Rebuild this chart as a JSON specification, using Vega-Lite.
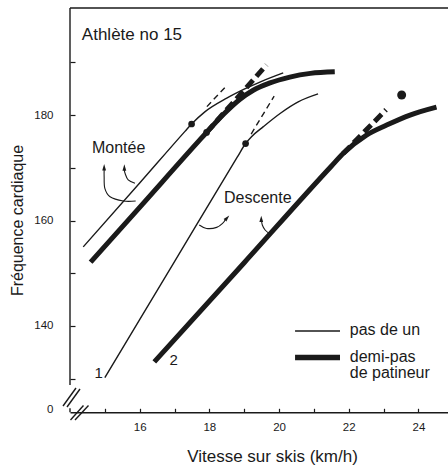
{
  "$schema": "https://vega.github.io/schema/vega-lite/v6.json",
  "width": 378,
  "height": 404.3,
  "autosize": {"type": "none"},
  "padding": {"left": 70, "top": 8, "right": 0, "bottom": 52.7},
  "background": "white",
  "config": {"view": {"stroke": null}, "font": "Liberation Sans"},
  "datasets": {
    "curves": [
      {"terrain": "Montée", "technique": "pas de un", "part": "mesure", "o": 1, "x": 14.38, "y": 155.0},
      {"terrain": "Montée", "technique": "pas de un", "part": "mesure", "o": 2, "x": 16.0, "y": 167.1},
      {"terrain": "Montée", "technique": "pas de un", "part": "mesure", "o": 3, "x": 17.3, "y": 176.9},
      {"terrain": "Montée", "technique": "pas de un", "part": "mesure", "o": 4, "x": 17.49, "y": 178.3},
      {"terrain": "Montée", "technique": "pas de un", "part": "mesure", "o": 5, "x": 17.87, "y": 180.6},
      {"terrain": "Montée", "technique": "pas de un", "part": "mesure", "o": 6, "x": 18.5, "y": 183.2},
      {"terrain": "Montée", "technique": "pas de un", "part": "mesure", "o": 7, "x": 19.0, "y": 184.9},
      {"terrain": "Montée", "technique": "pas de un", "part": "mesure", "o": 8, "x": 19.5, "y": 186.4},
      {"terrain": "Montée", "technique": "pas de un", "part": "mesure", "o": 9, "x": 20.12, "y": 188.0},
      {"terrain": "Montée", "technique": "pas de un", "part": "extrapolation", "o": 1, "x": 17.93, "y": 181.6},
      {"terrain": "Montée", "technique": "pas de un", "part": "extrapolation", "o": 2, "x": 18.5, "y": 185.6},
      {"terrain": "Montée", "technique": "demi-pas de patineur", "part": "mesure", "o": 1, "x": 14.59, "y": 152.1},
      {"terrain": "Montée", "technique": "demi-pas de patineur", "part": "mesure", "o": 2, "x": 16.0, "y": 162.5},
      {"terrain": "Montée", "technique": "demi-pas de patineur", "part": "mesure", "o": 3, "x": 17.7, "y": 175.1},
      {"terrain": "Montée", "technique": "demi-pas de patineur", "part": "mesure", "o": 4, "x": 17.92, "y": 176.7},
      {"terrain": "Montée", "technique": "demi-pas de patineur", "part": "mesure", "o": 5, "x": 18.4, "y": 180.1},
      {"terrain": "Montée", "technique": "demi-pas de patineur", "part": "mesure", "o": 6, "x": 18.88, "y": 183.0},
      {"terrain": "Montée", "technique": "demi-pas de patineur", "part": "mesure", "o": 7, "x": 19.26, "y": 184.7},
      {"terrain": "Montée", "technique": "demi-pas de patineur", "part": "mesure", "o": 8, "x": 19.74, "y": 186.1},
      {"terrain": "Montée", "technique": "demi-pas de patineur", "part": "mesure", "o": 9, "x": 20.31, "y": 187.2},
      {"terrain": "Montée", "technique": "demi-pas de patineur", "part": "mesure", "o": 10, "x": 20.9, "y": 187.9},
      {"terrain": "Montée", "technique": "demi-pas de patineur", "part": "mesure", "o": 11, "x": 21.6, "y": 188.2},
      {"terrain": "Montée", "technique": "demi-pas de patineur", "part": "extrapolation", "o": 1, "x": 17.92, "y": 176.7},
      {"terrain": "Montée", "technique": "demi-pas de patineur", "part": "extrapolation", "o": 2, "x": 19.64, "y": 189.5},
      {"terrain": "Descente", "technique": "pas de un", "part": "mesure", "o": 1, "x": 15.0, "y": 130.2},
      {"terrain": "Descente", "technique": "pas de un", "part": "mesure", "o": 2, "x": 17.0, "y": 152.2},
      {"terrain": "Descente", "technique": "pas de un", "part": "mesure", "o": 3, "x": 18.8, "y": 172.0},
      {"terrain": "Descente", "technique": "pas de un", "part": "mesure", "o": 4, "x": 19.04, "y": 174.6},
      {"terrain": "Descente", "technique": "pas de un", "part": "mesure", "o": 5, "x": 19.21, "y": 175.9},
      {"terrain": "Descente", "technique": "pas de un", "part": "mesure", "o": 6, "x": 19.55, "y": 177.8},
      {"terrain": "Descente", "technique": "pas de un", "part": "mesure", "o": 7, "x": 20.03, "y": 180.3},
      {"terrain": "Descente", "technique": "pas de un", "part": "mesure", "o": 8, "x": 20.55, "y": 182.5},
      {"terrain": "Descente", "technique": "pas de un", "part": "mesure", "o": 9, "x": 21.12, "y": 184.0},
      {"terrain": "Descente", "technique": "pas de un", "part": "extrapolation", "o": 1, "x": 19.2, "y": 176.4},
      {"terrain": "Descente", "technique": "pas de un", "part": "extrapolation", "o": 2, "x": 19.86, "y": 183.6},
      {"terrain": "Descente", "technique": "demi-pas de patineur", "part": "mesure", "o": 1, "x": 16.42, "y": 133.2},
      {"terrain": "Descente", "technique": "demi-pas de patineur", "part": "mesure", "o": 2, "x": 19.0, "y": 152.0},
      {"terrain": "Descente", "technique": "demi-pas de patineur", "part": "mesure", "o": 3, "x": 21.5, "y": 170.3},
      {"terrain": "Descente", "technique": "demi-pas de patineur", "part": "mesure", "o": 4, "x": 21.84, "y": 172.7},
      {"terrain": "Descente", "technique": "demi-pas de patineur", "part": "mesure", "o": 5, "x": 22.51, "y": 176.2},
      {"terrain": "Descente", "technique": "demi-pas de patineur", "part": "mesure", "o": 6, "x": 23.09, "y": 178.1},
      {"terrain": "Descente", "technique": "demi-pas de patineur", "part": "mesure", "o": 7, "x": 23.76, "y": 180.0},
      {"terrain": "Descente", "technique": "demi-pas de patineur", "part": "mesure", "o": 8, "x": 24.52, "y": 181.5},
      {"terrain": "Descente", "technique": "demi-pas de patineur", "part": "extrapolation", "o": 1, "x": 21.84, "y": 172.7},
      {"terrain": "Descente", "technique": "demi-pas de patineur", "part": "extrapolation", "o": 2, "x": 23.07, "y": 181.0}
    ],
    "points": [
      {"kind": "seuil", "x": 17.49, "y": 178.3},
      {"kind": "seuil", "x": 17.92, "y": 176.7},
      {"kind": "seuil", "x": 19.04, "y": 174.6},
      {"kind": "tache", "x": 23.52, "y": 183.8}
    ],
    "arrows": [
      {"id": "a1", "o": 1, "x": 15.885, "y": 163.7},
      {"id": "a1", "o": 2, "x": 15.53, "y": 163.7},
      {"id": "a1", "o": 3, "x": 15.15, "y": 164.5},
      {"id": "a1", "o": 4, "x": 15.0, "y": 166.1},
      {"id": "a1", "o": 5, "x": 14.98, "y": 168.3},
      {"id": "a1", "o": 6, "x": 14.98, "y": 169.6},
      {"id": "a2", "o": 1, "x": 15.865, "y": 167.06},
      {"id": "a2", "o": 2, "x": 15.67, "y": 167.7},
      {"id": "a2", "o": 3, "x": 15.58, "y": 168.95},
      {"id": "a2", "o": 4, "x": 15.56, "y": 169.6},
      {"id": "a3", "o": 1, "x": 17.71, "y": 159.15},
      {"id": "a3", "o": 2, "x": 17.92, "y": 158.5},
      {"id": "a3", "o": 3, "x": 18.21, "y": 158.7},
      {"id": "a3", "o": 4, "x": 18.40, "y": 159.6},
      {"id": "a3", "o": 5, "x": 18.45, "y": 160.1},
      {"id": "a4", "o": 1, "x": 19.74, "y": 157.44},
      {"id": "a4", "o": 2, "x": 19.60, "y": 158.2},
      {"id": "a4", "o": 3, "x": 19.52, "y": 159.15},
      {"id": "a4", "o": 4, "x": 19.50, "y": 159.96}
    ],
    "heads": [
      {"id": "a1", "dir": "haut", "x": 14.98, "y": 170.1},
      {"id": "a2", "dir": "haut", "x": 15.56, "y": 170.05},
      {"id": "a3", "dir": "diagonale", "x": 18.51, "y": 160.5},
      {"id": "a4", "dir": "haut", "x": 19.49, "y": 160.3}
    ],
    "frame": [
      {"x": 14, "y": 200.3, "x2": 24.85, "y2": 200.3},
      {"x": 14, "y": 200.3, "x2": 14, "y2": 128.8},
      {"x": 14, "y": 124.4, "x2": 14, "y2": 123.63},
      {"x": 13.80, "y": 124.82, "x2": 14.172, "y2": 128.24},
      {"x": 13.914, "y": 124.63, "x2": 14.287, "y2": 128.05},
      {"x": 14.014, "y": 122.17, "x2": 14.387, "y2": 124.92},
      {"x": 14.143, "y": 122.17, "x2": 14.531, "y2": 124.92}
    ],
    "legend": [
      {"technique": "pas de un", "x": 20.46, "x2": 21.75, "y": 139.05},
      {"technique": "demi-pas de patineur", "x": 20.46, "x2": 21.75, "y": 134.0}
    ],
    "texts": [
      {"label": "Athlète no 15", "role": "titre", "x": 14.34, "y": 194.23},
      {"label": "Montée", "role": "terrain", "x": 14.63, "y": 172.86},
      {"label": "Descente", "role": "terrain", "x": 18.42, "y": 163.26},
      {"label": "1", "role": "courbe", "x": 14.70, "y": 130.08},
      {"label": "2", "role": "courbe", "x": 16.855, "y": 132.6},
      {"label": "pas de un", "role": "légende", "x": 22.03, "y": 138.29},
      {"label": "demi-pas", "role": "légende", "x": 22.03, "y": 133.22},
      {"label": "de patineur", "role": "légende", "x": 22.03, "y": 130.19}
    ]
  },
  "encoding": {
    "x": {
      "field": "x", "type": "quantitative",
      "scale": {"domain": [14, 24.85], "nice": false, "zero": false},
      "axis": {
        "values": [15, 16, 17, 18, 19, 20, 21, 22, 23, 24],
        "labelExpr": "datum.value % 2 == 0 ? datum.label : ''",
        "grid": false, "tickSize": -4, "tickWidth": 1.2, "tickColor": "#1a1a1a",
        "domainColor": "#1a1a1a", "domainWidth": 1.4,
        "labelFontSize": 11.5, "labelColor": "#1a1a1a", "labelPadding": 13,
        "labelFlush": false, "labelOverlap": false,
        "title": "Vitesse sur skis (km/h)", "titleFontSize": 17, "titleFontWeight": "normal",
        "titleColor": "#1a1a1a", "titleX": 202, "titleY": 49.4,
        "titleBaseline": "alphabetic", "titleAlign": "center"
      }
    },
    "y": {
      "field": "y", "type": "quantitative",
      "scale": {"domain": [123.63, 200.3], "nice": false, "zero": false},
      "axis": {
        "values": [124.2, 130, 140, 150, 160, 170, 180, 190],
        "labelExpr": "datum.value < 125 ? '0' : (datum.value % 20 == 0 ? datum.label : '')",
        "grid": false, "domain": false, "tickSize": -5, "tickWidth": 1.2, "tickColor": "#1a1a1a",
        "tickOpacity": {"condition": {"test": "datum.value < 125", "value": 0}, "value": 1},
        "labelFontSize": 11.5, "labelColor": "#1a1a1a", "labelPadding": 22,
        "labelFlush": false, "labelOverlap": false,
        "title": "Fréquence cardiaque", "titleFontSize": 16, "titleFontWeight": "normal",
        "titleColor": "#1a1a1a", "titleX": -47.3, "titleY": 212, "titleAngle": 270,
        "titleBaseline": "alphabetic", "titleAlign": "center"
      }
    }
  },
  "layer": [
    {
      "data": {"name": "frame"},
      "mark": {"type": "rule", "color": "#1a1a1a", "strokeWidth": 1.4},
      "encoding": {"x2": {"field": "x2"}, "y2": {"field": "y2"}}
    },
    {
      "data": {"name": "curves"},
      "transform": [{"filter": "datum.technique == 'pas de un' && datum.part == 'mesure'"}],
      "mark": {"type": "line", "color": "#1a1a1a", "strokeWidth": 1.4, "interpolate": "monotone"},
      "encoding": {"detail": {"field": "terrain"}, "order": {"field": "o"}}
    },
    {
      "data": {"name": "curves"},
      "transform": [{"filter": "datum.technique == 'demi-pas de patineur' && datum.part == 'mesure'"}],
      "mark": {"type": "line", "color": "#1a1a1a", "strokeWidth": 5, "interpolate": "monotone"},
      "encoding": {"detail": {"field": "terrain"}, "order": {"field": "o"}}
    },
    {
      "data": {"name": "curves"},
      "transform": [{"filter": "datum.technique == 'pas de un' && datum.part == 'extrapolation'"}],
      "mark": {"type": "line", "color": "#1a1a1a", "strokeWidth": 1.4, "strokeDash": [6, 4]},
      "encoding": {"detail": {"field": "terrain"}, "order": {"field": "o"}}
    },
    {
      "data": {"name": "curves"},
      "transform": [{"filter": "datum.technique == 'demi-pas de patineur' && datum.part == 'extrapolation'"}],
      "mark": {"type": "line", "color": "#1a1a1a", "strokeWidth": 5, "strokeDash": [10, 5]},
      "encoding": {"detail": {"field": "terrain"}, "order": {"field": "o"}}
    },
    {
      "data": {"name": "points"},
      "transform": [{"filter": "datum.kind == 'seuil'"}],
      "mark": {"type": "point", "filled": true, "color": "#1a1a1a", "opacity": 1, "size": 45, "shape": "circle"}
    },
    {
      "data": {"name": "points"},
      "transform": [{"filter": "datum.kind == 'tache'"}],
      "mark": {"type": "point", "filled": true, "color": "#1a1a1a", "opacity": 1, "size": 80, "shape": "circle"}
    },
    {
      "data": {"name": "arrows"},
      "mark": {"type": "line", "color": "#1a1a1a", "strokeWidth": 1.1, "interpolate": "cardinal"},
      "encoding": {"detail": {"field": "id"}, "order": {"field": "o"}}
    },
    {
      "data": {"name": "heads"},
      "transform": [{"filter": "datum.dir == 'haut'"}],
      "mark": {"type": "point", "filled": true, "color": "#1a1a1a", "opacity": 1, "size": 40, "shape": "M0,-1L0.6,1L-0.6,1Z", "angle": 0}
    },
    {
      "data": {"name": "heads"},
      "transform": [{"filter": "datum.dir == 'diagonale'"}],
      "mark": {"type": "point", "filled": true, "color": "#1a1a1a", "opacity": 1, "size": 40, "shape": "M0,-1L0.6,1L-0.6,1Z", "angle": 42}
    },
    {
      "data": {"name": "legend"},
      "transform": [{"filter": "datum.technique == 'pas de un'"}],
      "mark": {"type": "rule", "color": "#1a1a1a", "strokeWidth": 1.4},
      "encoding": {"x2": {"field": "x2"}}
    },
    {
      "data": {"name": "legend"},
      "transform": [{"filter": "datum.technique == 'demi-pas de patineur'"}],
      "mark": {"type": "rule", "color": "#1a1a1a", "strokeWidth": 5.5},
      "encoding": {"x2": {"field": "x2"}}
    },
    {
      "data": {"name": "texts"},
      "transform": [{"filter": "datum.role == 'titre'"}],
      "mark": {"type": "text", "align": "left", "baseline": "alphabetic", "fontSize": 17, "color": "#1a1a1a"},
      "encoding": {"text": {"field": "label"}}
    },
    {
      "data": {"name": "texts"},
      "transform": [{"filter": "datum.role == 'terrain' || datum.role == 'légende'"}],
      "mark": {"type": "text", "align": "left", "baseline": "alphabetic", "fontSize": 16, "color": "#1a1a1a"},
      "encoding": {"text": {"field": "label"}}
    },
    {
      "data": {"name": "texts"},
      "transform": [{"filter": "datum.role == 'courbe'"}],
      "mark": {"type": "text", "align": "left", "baseline": "alphabetic", "fontSize": 15, "color": "#1a1a1a"},
      "encoding": {"text": {"field": "label"}}
    }
  ]
}
